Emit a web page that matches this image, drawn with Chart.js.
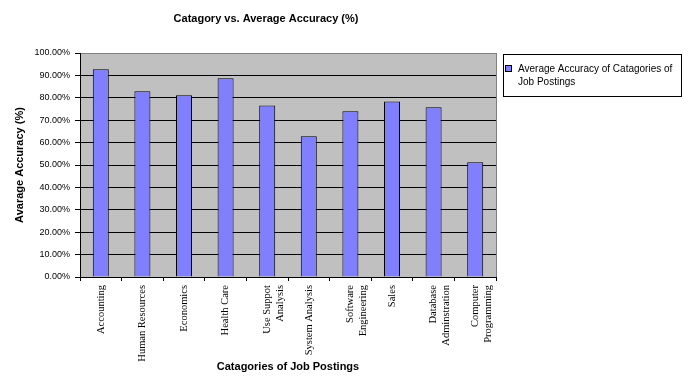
<!DOCTYPE html>
<html>
<head>
<meta charset="utf-8">
<script src="https://cdn.jsdelivr.net/npm/chart.js@4/dist/chart.umd.min.js"></script>
<style>
  html, body { margin: 0; padding: 0; background: #ffffff; }
  #wrap { width: 693px; height: 385px; }
</style>
</head>
<body>
<div id="wrap"><canvas id="chart" width="693" height="385"></canvas></div>
<script>
// chart data
const categories = [
    'Accounting',
    'Human Resources',
    'Economics',
    'Health Care',
    ['Use Suppot', 'Analysis'],
    'System Analysis',
    ['Software', 'Engineering'],
    'Sales',
    ['Database', 'Adminstration'],
    ['Computer', 'Programming']
];
const accuracyValues = [92.7, 82.9, 81.1, 88.7, 76.6, 62.8, 74.0, 78.4, 75.8, 51.2];
const yTicks = [0, 10, 20, 30, 40, 50, 60, 70, 80, 90, 100];

const chartTitle = 'Catagory vs. Average Accuracy (%)';
const seriesLabel = 'Average Accuracy of Catagories of Job Postings';
const legendLines = ['Average Accuracy of Catagories of', 'Job Postings'];

Chart.defaults.font.family = "'Liberation Sans', Arial, sans-serif";
Chart.defaults.color = '#000000';

// Plot background, right frame, title and legend box
const decorPlugin = {
    id: 'decor',
    beforeDraw: function(chart) {
        const a = chart.chartArea;
        const ctx = chart.ctx;
        ctx.save();
        ctx.fillStyle = '#c0c0c0';
        ctx.fillRect(a.left, a.top, a.right - a.left, a.bottom - a.top);
        ctx.restore();
    },
    afterDraw: function(chart) {
        const a = chart.chartArea;
        const ctx = chart.ctx;
        ctx.save();

        // right frame of the plot
        ctx.strokeStyle = '#808080';
        ctx.lineWidth = 1;
        ctx.beginPath();
        ctx.moveTo(Math.round(a.right) + 0.5, a.top);
        ctx.lineTo(Math.round(a.right) + 0.5, a.bottom);
        ctx.stroke();

        // chart title
        ctx.fillStyle = '#000000';
        ctx.font = "bold 11px 'Liberation Sans', Arial, sans-serif";
        ctx.textAlign = 'center';
        ctx.textBaseline = 'middle';
        ctx.fillText(chartTitle, 266, 19);

        // legend box
        const ds = chart.data.datasets[0];
        ctx.fillStyle = '#ffffff';
        ctx.fillRect(503, 54, 178, 42);
        ctx.strokeStyle = '#000000';
        ctx.strokeRect(503.5, 54.5, 178, 42);
        ctx.fillStyle = ds.backgroundColor;
        ctx.fillRect(505.5, 65.5, 6, 6);
        ctx.strokeRect(505.5, 65.5, 6, 6);
        ctx.fillStyle = '#000000';
        ctx.font = "10px 'Liberation Sans', Arial, sans-serif";
        ctx.textAlign = 'left';
        legendLines.forEach(function(line, i) {
            ctx.fillText(line, 518, 69 + i * 13);
        });
        ctx.restore();
    }
};

new Chart(document.getElementById('chart'), {
    type: 'bar',
    data: {
        labels: categories,
        datasets: [{
            label: seriesLabel,
            data: accuracyValues,
            backgroundColor: '#8080ff',
            borderColor: '#000000',
            borderWidth: 1,
            categoryPercentage: 1,
            barPercentage: 0.385
        }]
    },
    options: {
        responsive: false,
        animation: false,
        layout: {
            padding: { top: 53, right: 197, bottom: 0, left: 0 }
        },
        plugins: {
            legend: { display: false },
            title: { display: false },
            tooltip: { enabled: false }
        },
        scales: {
            x: {
                afterFit: function(scale) { scale.height = 108; },
                border: { color: '#000000', width: 1 },
                grid: {
                    offset: true,
                    drawOnChartArea: false,
                    drawTicks: true,
                    tickLength: 4,
                    color: '#000000'
                },
                ticks: {
                    minRotation: 90,
                    maxRotation: 90,
                    autoSkip: false,
                    padding: 4,
                    font: { family: "'Liberation Serif', 'Times New Roman', serif", size: 10.5 }
                },
                title: {
                    display: true,
                    text: 'Catagories of Job Postings',
                    font: { size: 11, weight: 'bold' },
                    padding: { top: 0, bottom: 11 }
                }
            },
            y: {
                min: 0,
                max: 100,
                afterFit: function(scale) { scale.width = 80; },
                afterBuildTicks: function(scale) {
                    scale.ticks = yTicks.map(function(v) { return { value: v }; });
                },
                border: { color: '#000000', width: 1 },
                grid: {
                    color: function(ctx) {
                        return ctx.tick && ctx.tick.value === 100 ? '#808080' : '#000000';
                    },
                    tickColor: '#000000',
                    tickLength: 5
                },
                ticks: {
                    padding: 5,
                    font: { size: 9 },
                    callback: function(v) { return v.toFixed(2) + '%'; }
                },
                title: {
                    display: true,
                    text: 'Avarage Accuracy (%)',
                    font: { size: 11, weight: 'bold' },
                    padding: { top: 13, bottom: 0 }
                }
            }
        }
    },
    plugins: [decorPlugin]
});
</script>
</body>
</html>
